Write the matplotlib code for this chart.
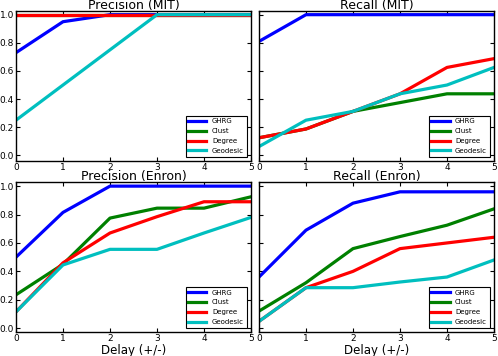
import matplotlib
matplotlib.use("Agg")
import matplotlib.pyplot as plt

delay = [0, 1, 2, 3, 4, 5]
methods = ["GHRG", "Clust", "Degree", "Geodesic"]
colors = ["b", "g", "r", "c"]

# precision / recall vs delay
prec_mit = {
    "GHRG": [0.73, 0.95, 1.0, 1.0, 1.0, 1.0],
    "Clust": [1.0, 1.0, 1.0, 1.0, 1.0, 1.0],
    "Degree": [1.0, 1.0, 1.0, 1.0, 1.0, 1.0],
    "Geodesic": [0.25, 0.5, 0.75, 1.0, 1.0, 1.0],
}
rec_mit = {
    "GHRG": [0.81, 1.0, 1.0, 1.0, 1.0, 1.0],
    "Clust": [0.125, 0.1875, 0.3125, 0.375, 0.4375, 0.4375],
    "Degree": [0.125, 0.1875, 0.3125, 0.4375, 0.625, 0.6875],
    "Geodesic": [0.0625, 0.25, 0.3125, 0.4375, 0.5, 0.625],
}
prec_enron = {
    "GHRG": [0.5, 0.815, 1.0, 1.0, 1.0, 1.0],
    "Clust": [0.235, 0.45, 0.775, 0.845, 0.845, 0.925],
    "Degree": [0.115, 0.46, 0.67, 0.785, 0.89, 0.89],
    "Geodesic": [0.115, 0.445, 0.555, 0.555, 0.67, 0.78],
}
rec_enron = {
    "GHRG": [0.36, 0.69, 0.88, 0.96, 0.96, 0.96],
    "Clust": [0.12, 0.32, 0.56, 0.645, 0.725, 0.84],
    "Degree": [0.048, 0.285, 0.40, 0.56, 0.60, 0.64],
    "Geodesic": [0.048, 0.285, 0.285, 0.325, 0.36, 0.48],
}

panels = [
    ("Precision (MIT)", prec_mit),
    ("Recall (MIT)", rec_mit),
    ("Precision (Enron)", prec_enron),
    ("Recall (Enron)", rec_enron),
]

fig = plt.figure(figsize=(4.98, 3.56), dpi=100)
W, H = 498.0, 356.0
# axes boxes in pixels: left, top, right, bottom
boxes = [
    (16, 11.3, 251, 160.7),
    (259, 11.3, 494, 160.7),
    (16, 182.3, 251, 332),
    (259, 182.3, 494, 332),
]

for i, ((title, data), (l, t, r, b)) in enumerate(zip(panels, boxes)):
    ax = fig.add_axes([l / W, 1 - b / H, (r - l) / W, (b - t) / H])
    for m, c in zip(methods, colors):
        ax.plot(delay, data[m], color=c, lw=2.3, label=m)
    ax.set_xlim(0, 5)
    if i < 2:
        ax.set_ylim(-0.038, 1.024)
    else:
        ax.set_ylim(-0.027, 1.027)
    ax.set_xticks([0, 1, 2, 3, 4, 5])
    ax.set_yticks([0.0, 0.2, 0.4, 0.6, 0.8, 1.0])
    ax.tick_params(direction="in", top=True, right=True, length=3,
                   labelsize=6.5, pad=1.5, width=0.8)
    if i % 2 == 1:
        ax.set_yticklabels([])
    else:
        ax.set_yticklabels(["0.0", "0.2", "0.4", "0.6", "0.8", "1.0"])
    ax.set_title(title, fontsize=9, pad=2)
    if i >= 2:
        ax.set_xlabel("Delay (+/-)", fontsize=8.5, labelpad=1)
    for s in ax.spines.values():
        s.set_linewidth(1)
    leg = ax.legend(loc="lower right", fontsize=5, handlelength=2.6,
                    borderaxespad=0.6, labelspacing=0.55, fancybox=False,
                    framealpha=1, edgecolor="k", borderpad=0.4)
    leg.get_frame().set_linewidth(0.8)
    for ln in leg.get_lines():
        ln.set_linewidth(2.3)

fig.savefig("out.png", dpi=100)
